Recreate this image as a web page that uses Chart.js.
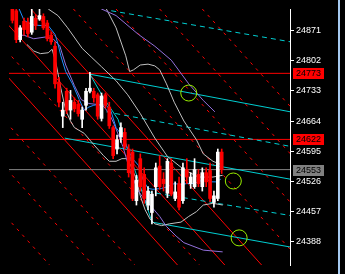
<!DOCTYPE html>
<html><head><meta charset="utf-8">
<style>html,body{margin:0;padding:0;background:#000;overflow:hidden}canvas{display:block}</style>
<script src="https://cdn.jsdelivr.net/npm/chart.js@4/dist/chart.umd.min.js"></script>
</head><body><canvas id="c" width="345" height="274"></canvas>
<script>
// ---- data ----
const opens  = [24920,24916,24850,24892,24890,24867,24899,24897,24903,24888,24860,24835,24753,24675,24732,24689,24707,24702,24668,24700,24732,24732,24724,24670,24724,24696,24649,24600,24628,24638,24600,24593,24482,24578,24542,24472,24455,24514,24561,24531,24499,24568,24487,24521,24482,24553,24521,24514,24542,24514,24546,24551,24478,24487,24593];
const highs  = [24931,24920,24882,24899,24899,24920,24907,24920,24909,24894,24867,24845,24764,24707,24739,24734,24717,24711,24696,24739,24775,24739,24728,24728,24728,24707,24653,24632,24660,24647,24610,24600,24540,24589,24557,24514,24504,24568,24585,24546,24578,24578,24525,24536,24568,24578,24546,24578,24553,24557,24557,24568,24504,24600,24600];
const lows   = [24888,24843,24845,24860,24856,24862,24873,24894,24873,24847,24839,24739,24696,24649,24681,24668,24685,24675,24649,24689,24728,24707,24668,24664,24694,24647,24578,24589,24615,24600,24536,24482,24472,24504,24476,24461,24429,24493,24508,24504,24489,24493,24482,24461,24476,24521,24510,24510,24514,24504,24514,24480,24467,24482,24544];
const closes = [24894,24850,24877,24873,24864,24903,24882,24905,24877,24852,24845,24749,24707,24689,24689,24711,24692,24681,24689,24732,24739,24717,24675,24721,24700,24653,24585,24621,24649,24606,24546,24487,24529,24514,24487,24504,24497,24557,24514,24521,24572,24497,24502,24467,24557,24536,24536,24553,24521,24546,24525,24487,24493,24593,24553];

const tickVals  = [24871,24802,24733,24664,24595,24526,24457,24388];
const levelVals = [24773,24622];
const bidVal    = 24553;

// indicator lines: [bar index, price]
const maBlue = [[1.75,24920],[3,24894],[5,24884],[7.5,24882],[9.25,24882],[11,24862],[11.75,24841],[12.5,24813],[13.75,24777],[15.5,24749],[17.25,24713],[18.5,24689],[19.75,24696],[21,24700],[22.25,24702],[24.25,24700],[25.5,24685],[26.75,24649],[28.5,24628],[29.75,24600],[31,24578],[32.5,24563],[33.75,24529],[35,24510],[36.25,24508],[38.5,24510],[40,24514],[41.75,24521],[43.5,24519],[45,24521],[46.75,24521],[48.5,24527],[49.75,24536],[51,24525],[52.5,24525],[53.75,24531]];
const maPurple = [[2.25,24860],[3,24860],[5.5,24852],[8.5,24856],[10.5,24852],[12.25,24835],[13.75,24792],[16,24745],[17.75,24713],[19.75,24704],[21.75,24702],[23.5,24698],[25,24681],[26.25,24657],[28.5,24606],[30.5,24546],[32.5,24504],[34.25,24482],[36,24467],[38,24446],[39.75,24423],[42.25,24401],[44.25,24386],[49.25,24369],[54.25,24365]];
const maPurpleSlow = [[21.25,24931],[23,24920],[26.75,24905],[32.5,24862],[36.75,24835],[41,24803],[45.5,24749],[49.25,24711],[52.25,24685]];
const bandA = [[6.75,24952],[9.25,24920],[11.75,24905],[14.25,24877],[18,24830],[20.5,24809],[23,24788],[26.75,24756],[29.75,24724],[33,24681],[36.75,24625],[40,24583],[44.25,24553],[48,24536],[51.75,24536],[54.25,24540]];
const bandB = [[23.5,24935],[24.25,24920],[26.75,24877],[29.25,24813],[30.25,24777],[31.25,24781],[33,24792],[35,24794],[36.75,24790],[38,24781],[39.75,24749],[41.75,24707],[44.25,24664],[47.5,24621],[49.25,24589],[51.75,24572],[54.25,24563]];
const bandC = [[3.75,24839],[5.5,24824],[7.25,24818],[9.25,24820],[10.25,24828],[11.25,24796],[12.5,24739],[13.75,24689],[15,24664],[16,24649],[18.5,24636],[21,24610],[23.5,24585],[25,24572],[26.75,24572],[28.25,24578],[29.5,24578],[30.5,24563],[31.75,24536],[33,24493],[34.25,24461],[35.5,24440],[36.75,24429],[38.5,24425],[40.5,24429],[43.5,24433],[45.5,24446],[47.5,24457],[49.25,24472],[51.75,24476],[54.25,24472]];

// drawn trend lines (start, end) as [bar index, price]
const cyanSteep   = [[20,24771],[23.5,24717],[27.25,24668],[30.5,24578],[32.25,24536],[36,24433],[71.75,24376]];
const cyanSolid   = [[[20,24771],[71.75,24685]], [[13.5,24625],[71.75,24531]]];
const cyanDashed  = [[[25.5,24916],[71.75,24845]], [[24.25,24685],[71.75,24606]], [[32.5,24506],[71.75,24448]]];
const redSolid    = [[[-17,24920],[42.6,24335]], [[-4.75,24920],[54.8,24335]], [[4.75,24920],[64.3,24335]]];
const redDashed   = [[[-50,24920],[9.6,24335]], [[-38.75,24920],[20.8,24335]], [[-28,24920],[31.6,24335]], [[-11.25,24920],[48.3,24335]], [[15.75,24920],[75.3,24335]], [[26.75,24920],[86.3,24335]], [[38,24920],[97.6,24335]], [[49,24920],[108.6,24335]]];
const circles     = [[45.5,24728],[57,24527],[58.5,24397]];

// ---- build ----
const idx = opens.map((_, i) => i);
const candleCol = idx.map(i => closes[i] > opens[i] ? '#ffffff' : '#ff0000');
const toPts = a => a.map(p => ({x: p[0], y: p[1]}));
const lineDs = (pts, color, dash, order, w) => ({type:'line', data: toPts(pts), borderColor: color, borderWidth: w || 1, borderDash: dash || [], pointRadius: 0, tension: 0, fill: false, order: order});

const datasets = [];
redDashed.forEach(l => datasets.push(lineDs(l, '#ff0000', [3,5], 9)));
redSolid.forEach(l => datasets.push(lineDs(l, '#ff0000', [], 9)));
datasets.push(lineDs([[-0.875, levelVals[0]],[71.625, levelVals[0]]], '#ff0000', [], 8));
datasets.push(lineDs([[-0.875, levelVals[1]],[71.625, levelVals[1]]], '#ff0000', [], 8));
datasets.push(lineDs([[-0.875, bidVal],[71.625, bidVal]], '#808080', [], 8));
cyanDashed.forEach(l => datasets.push(lineDs(l, '#00ced1', [5,4], 7)));
cyanSolid.forEach(l => datasets.push(lineDs(l, '#00ced1', [], 7)));
datasets.push(lineDs(cyanSteep, '#00ced1', [], 7));
datasets.push(lineDs(bandA, '#c0c0c0', [], 6));
datasets.push(lineDs(bandB, '#c0c0c0', [], 6));
datasets.push(lineDs(bandC, '#c0c0c0', [], 6));
datasets.push(lineDs(maPurpleSlow, '#9370db', [], 5));
datasets.push(lineDs(maPurple, '#9370db', [], 5));
datasets.push(lineDs(maBlue, '#1e90ff', [], 4));
datasets.push({type:'bar', data: idx.map(i => ({x: i, y: [lows[i], highs[i]]})), backgroundColor: candleCol, barThickness: 1, grouped: false, borderWidth: 0, order: 2});
datasets.push({type:'bar', data: idx.map(i => ({x: i, y: [opens[i], closes[i]]})), backgroundColor: candleCol, barThickness: 3, grouped: false, borderWidth: 0, minBarLength: 1, order: 1});
datasets.push({type:'scatter', data: toPts(circles), pointRadius: 8, pointStyle: 'circle', borderColor: '#99ee00', backgroundColor: 'rgba(0,0,0,0)', borderWidth: 1, order: 0});

const overlay = {
  id: 'overlay',
  beforeDraw(chart) {
    const c = chart.ctx; c.save(); c.fillStyle = '#000'; c.fillRect(0, 0, chart.width, chart.height); c.restore();
  },
  afterDraw(chart) {
    const c = chart.ctx, ys = chart.scales.y, x0 = chart.chartArea.right;
    c.save();
    c.fillStyle = '#a6caf0'; c.fillRect(x0 + 48, 0, 2, chart.height);
    const boxes = [[levelVals[0], '#ff0000'], [levelVals[1], '#ff0000'], [bidVal, '#808080']];
    c.font = '9px "Liberation Sans"'; c.textBaseline = 'middle';
    boxes.forEach(b => {
      const py = Math.round(ys.getPixelForValue(b[0]));
      c.fillStyle = b[1]; c.fillRect(x0 + 3, py - 5, 31, 11);
      c.fillStyle = '#000'; c.fillText(String(b[0]), x0 + 6, py + 0.5);
    });
    c.restore();
  }
};

new Chart(document.getElementById('c'), {
  type: 'bar',
  data: { datasets },
  options: {
    responsive: false, animation: false, devicePixelRatio: 1,
    layout: { padding: 0 },
    plugins: { legend: { display: false }, tooltip: { enabled: false } },
    scales: {
      x: { type: 'linear', min: -0.875, max: 71.625, display: false, offset: false },
      y: {
        position: 'right', min: 24335, max: 24920,
        afterBuildTicks: s => { s.ticks = tickVals.map(v => ({ value: v })); },
        afterFit: s => { s.width = 55; },
        grid: { display: true, drawOnChartArea: false, drawTicks: true, tickLength: 4, color: '#ffffff' },
        border: { display: true, color: '#ffffff', width: 1 },
        ticks: { color: '#ffffff', font: { family: 'Liberation Sans', size: 9 }, padding: 2, autoSkip: false, callback: v => String(v) }
      }
    }
  },
  plugins: [overlay]
});
</script></body></html>
